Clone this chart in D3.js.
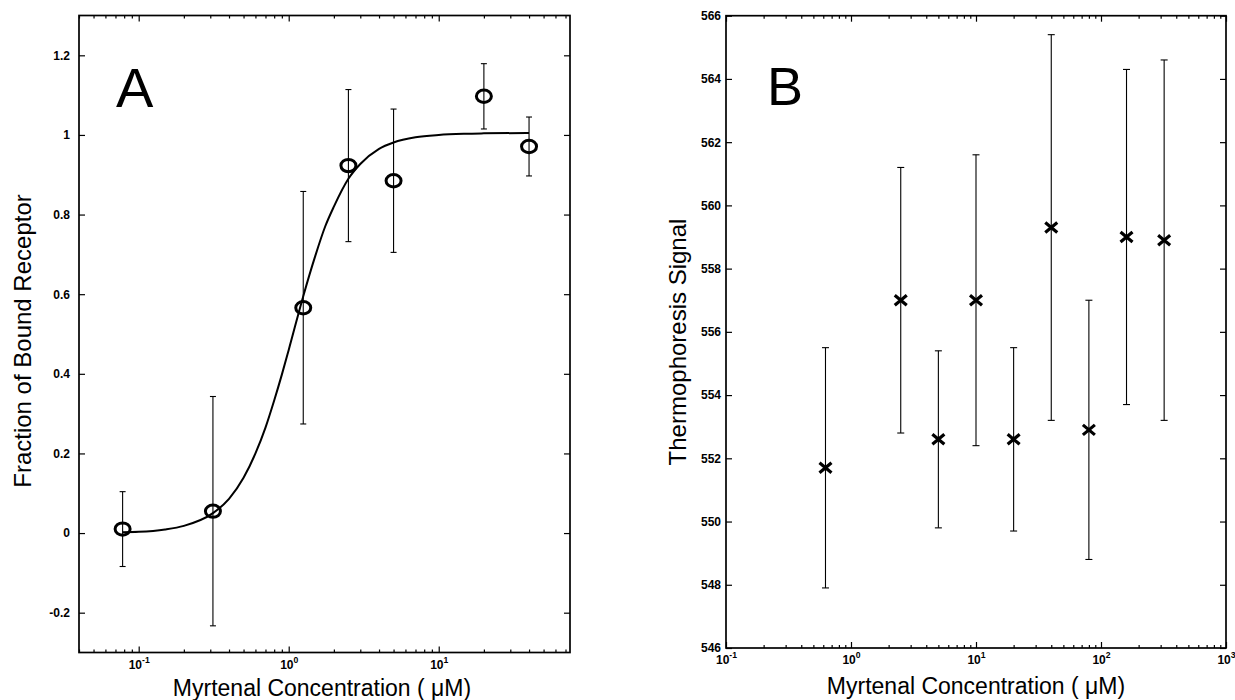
<!DOCTYPE html>
<html>
<head>
<meta charset="utf-8">
<script src="https://cdn.jsdelivr.net/npm/d3@7"></script>
<style>
  html, body { margin: 0; padding: 0; background: #fff; }
  svg { display: block; }
  text { font-family: "Liberation Sans", Arial, Helvetica, sans-serif; fill: #000; }
</style>
</head>
<body>
<svg id="chart" width="1235" height="700"></svg>
<script>
// ---------- Panel A data ----------
const concA = [0.078125, 0.3125, 1.25, 2.5, 5, 20, 40];
const fracA = [0.01, 0.055, 0.566, 0.923, 0.885, 1.097, 0.971];
const errA  = [0.094, 0.288, 0.292, 0.191, 0.18, 0.082, 0.074];
// fitted curve
const fitX = [0.078125, 0.1, 0.15, 0.2, 0.3125, 0.4, 0.5, 0.6, 0.7, 0.8, 0.9, 1.0, 1.25, 1.5, 1.75, 2.0, 2.5, 3.0, 4.0, 5.0, 7.0, 10, 15, 20, 40];
const fitY = [0.002, 0.003, 0.009, 0.018, 0.05, 0.086, 0.139, 0.20, 0.265, 0.333, 0.398, 0.46, 0.595, 0.695, 0.77, 0.82, 0.89, 0.927, 0.965, 0.981, 0.994, 1.0, 1.003, 1.004, 1.005];
const yTicksA = [-0.2, 0, 0.2, 0.4, 0.6, 0.8, 1, 1.2];
const xTicksA = [0.1, 1, 10];
const xTickExpA = ["-1", "0", "1"];

// ---------- Panel B data ----------
const concB = [0.625, 2.5, 5, 10, 20, 40, 80, 160, 320];
const sigB  = [551.7, 557.0, 552.6, 557.0, 552.6, 559.3, 552.9, 559.0, 558.9];
const errB  = [3.8, 4.2, 2.8, 4.6, 2.9, 6.1, 4.1, 5.3, 5.7];
const yTicksB = [546, 548, 550, 552, 554, 556, 558, 560, 562, 564, 566];
const xTicksB = [0.1, 1, 10, 100, 1000];
const xTickExpB = ["-1", "0", "1", "2", "3"];

const xTitle = "Myrtenal Concentration ( \u03BCM)";
const yTitleA = "Fraction of Bound Receptor";
const yTitleB = "Thermophoresis Signal";

const svg = d3.select("#chart");

function minorTicks(domain) {
  const out = [];
  const lo = Math.floor(Math.log10(domain[0])), hi = Math.ceil(Math.log10(domain[1]));
  for (let e = lo; e <= hi; e++) {
    for (let m = 2; m <= 9; m++) {
      const v = m * Math.pow(10, e);
      if (v >= domain[0] && v <= domain[1]) out.push(v);
    }
  }
  return out;
}

function drawPanel(cfg) {
  const { x, y, yTicks, yFmt, xTicks, xExp, yPad, xLabDy, tickFontSize } = cfg;
  const [x0, x1] = x.range();
  const [y0, y1] = y.range();
  const g = svg.append("g");
  const major = 6, minor = 3;

  g.append("rect").attr("x", x0).attr("y", y1).attr("width", x1 - x0).attr("height", y0 - y1)
    .attr("fill", "none").attr("stroke", "#000").attr("stroke-width", 1.7);

  const styleAxis = sel => {
    sel.select(".domain").remove();
    sel.selectAll(".tick line").attr("stroke", "#000").attr("stroke-width", 1.2);
  };

  const left = g.append("g").attr("transform", `translate(${x0},0)`)
    .call(d3.axisLeft(y).tickValues(yTicks).tickFormat(yFmt).tickSize(-major).tickPadding(yPad));
  styleAxis(left);
  left.selectAll(".tick text").attr("font-size", tickFontSize).attr("font-weight", "bold")
    .attr("font-family", "Liberation Sans, Arial, sans-serif").attr("fill", "#000");

  const right = g.append("g").attr("transform", `translate(${x1},0)`)
    .call(d3.axisRight(y).tickValues(yTicks).tickFormat(() => "").tickSize(-major));
  styleAxis(right);

  const bottom = g.append("g").attr("transform", `translate(0,${y0})`)
    .call(d3.axisBottom(x).tickValues(xTicks).tickFormat(() => "").tickSize(-major));
  styleAxis(bottom);
  bottom.selectAll(".tick").each(function(d, i) {
    const t = d3.select(this).append("text").attr("y", xLabDy).attr("text-anchor", "middle")
      .attr("font-size", tickFontSize).attr("font-weight", "bold").attr("fill", "#000");
    t.append("tspan").text("10");
    t.append("tspan").attr("dy", -6).attr("font-size", tickFontSize * 0.72).text(xExp[i]);
  });
  const bottomMinor = g.append("g").attr("transform", `translate(0,${y0})`)
    .call(d3.axisBottom(x).tickValues(minorTicks(x.domain())).tickFormat(() => "").tickSize(-minor));
  styleAxis(bottomMinor);

  const top = g.append("g").attr("transform", `translate(0,${y1})`)
    .call(d3.axisTop(x).tickValues(xTicks).tickFormat(() => "").tickSize(-major));
  styleAxis(top);
  const topMinor = g.append("g").attr("transform", `translate(0,${y1})`)
    .call(d3.axisTop(x).tickValues(minorTicks(x.domain())).tickFormat(() => "").tickSize(-minor));
  styleAxis(topMinor);
  return g;
}

// ---------- Panel A ----------
const xA = d3.scaleLog().domain([0.04, 75]).range([79, 570]);
const yA = d3.scaleLinear().domain([-0.3, 1.3]).range([652.5, 15.5]);
const gA = drawPanel({ x: xA, y: yA, yTicks: yTicksA, yFmt: d => (d < 0 ? "-" : "") + d3.format("~g")(Math.abs(d)),
  xTicks: xTicksA, xExp: xTickExpA, yPad: 9, xLabDy: 16, tickFontSize: 12 });

const ebA = gA.append("g").attr("stroke", "#000").attr("stroke-width", 1.1);
concA.forEach((c, i) => {
  const cx = xA(c), yt = yA(fracA[i] + errA[i]), yb = yA(fracA[i] - errA[i]);
  ebA.append("line").attr("x1", cx).attr("x2", cx).attr("y1", yt).attr("y2", yb);
  ebA.append("line").attr("x1", cx - 3).attr("x2", cx + 3).attr("y1", yt).attr("y2", yt);
  ebA.append("line").attr("x1", cx - 3).attr("x2", cx + 3).attr("y1", yb).attr("y2", yb);
});
const fitData = fitX.map((v, i) => [v, fitY[i]]);
gA.append("path").datum(fitData)
  .attr("d", d3.line().x(d => xA(d[0])).y(d => yA(d[1])).curve(d3.curveMonotoneX))
  .attr("fill", "none").attr("stroke", "#000").attr("stroke-width", 2);
gA.append("g").selectAll("ellipse").data(concA).join("ellipse")
  .attr("cx", d => xA(d)).attr("cy", (d, i) => yA(fracA[i]))
  .attr("rx", 7.5).attr("ry", 6.2).attr("fill", "none").attr("stroke", "#000").attr("stroke-width", 3);

gA.append("text").attr("x", 116).attr("y", 107).attr("font-size", 56)
  .attr("font-family", "Open Sans, sans-serif").attr("font-weight", 500).text("A");
gA.append("text").attr("x", 322).attr("y", 696).attr("text-anchor", "middle").attr("font-size", 23).text(xTitle);
gA.append("text").attr("transform", "translate(31,341) rotate(-90)").attr("text-anchor", "middle")
  .attr("font-size", 24).text(yTitleA);

// ---------- Panel B ----------
const xB = d3.scaleLog().domain([0.1, 1000]).range([726, 1226]);
const yB = d3.scaleLinear().domain([546, 566]).range([648, 15.7]);
const gB = drawPanel({ x: xB, y: yB, yTicks: yTicksB, yFmt: d3.format("d"),
  xTicks: xTicksB, xExp: xTickExpB, yPad: 5, xLabDy: 16, tickFontSize: 12 });

const ebB = gB.append("g").attr("stroke", "#000").attr("stroke-width", 1.1);
concB.forEach((c, i) => {
  const cx = xB(c), yt = yB(sigB[i] + errB[i]), yb = yB(sigB[i] - errB[i]);
  ebB.append("line").attr("x1", cx).attr("x2", cx).attr("y1", yt).attr("y2", yb);
  ebB.append("line").attr("x1", cx - 3.5).attr("x2", cx + 3.5).attr("y1", yt).attr("y2", yt);
  ebB.append("line").attr("x1", cx - 3.5).attr("x2", cx + 3.5).attr("y1", yb).attr("y2", yb);
});
gB.append("g").selectAll("path").data(concB).join("path")
  .attr("d", (d, i) => {
    const cx = xB(d), cy = yB(sigB[i]), sx = 6, sy = 5;
    return `M${cx - sx},${cy - sy}L${cx + sx},${cy + sy}M${cx - sx},${cy + sy}L${cx + sx},${cy - sy}`;
  })
  .attr("fill", "none").attr("stroke", "#000").attr("stroke-width", 3.2);

gB.append("text").attr("x", 767).attr("y", 105).attr("font-size", 54)
  .attr("font-family", "Open Sans, sans-serif").attr("font-weight", 500).text("B");
gB.append("text").attr("x", 976).attr("y", 694).attr("text-anchor", "middle").attr("font-size", 23).text(xTitle);
gB.append("text").attr("transform", "translate(686,342) rotate(-90)").attr("text-anchor", "middle")
  .attr("font-size", 24).text(yTitleB);
</script>
</body>
</html>
